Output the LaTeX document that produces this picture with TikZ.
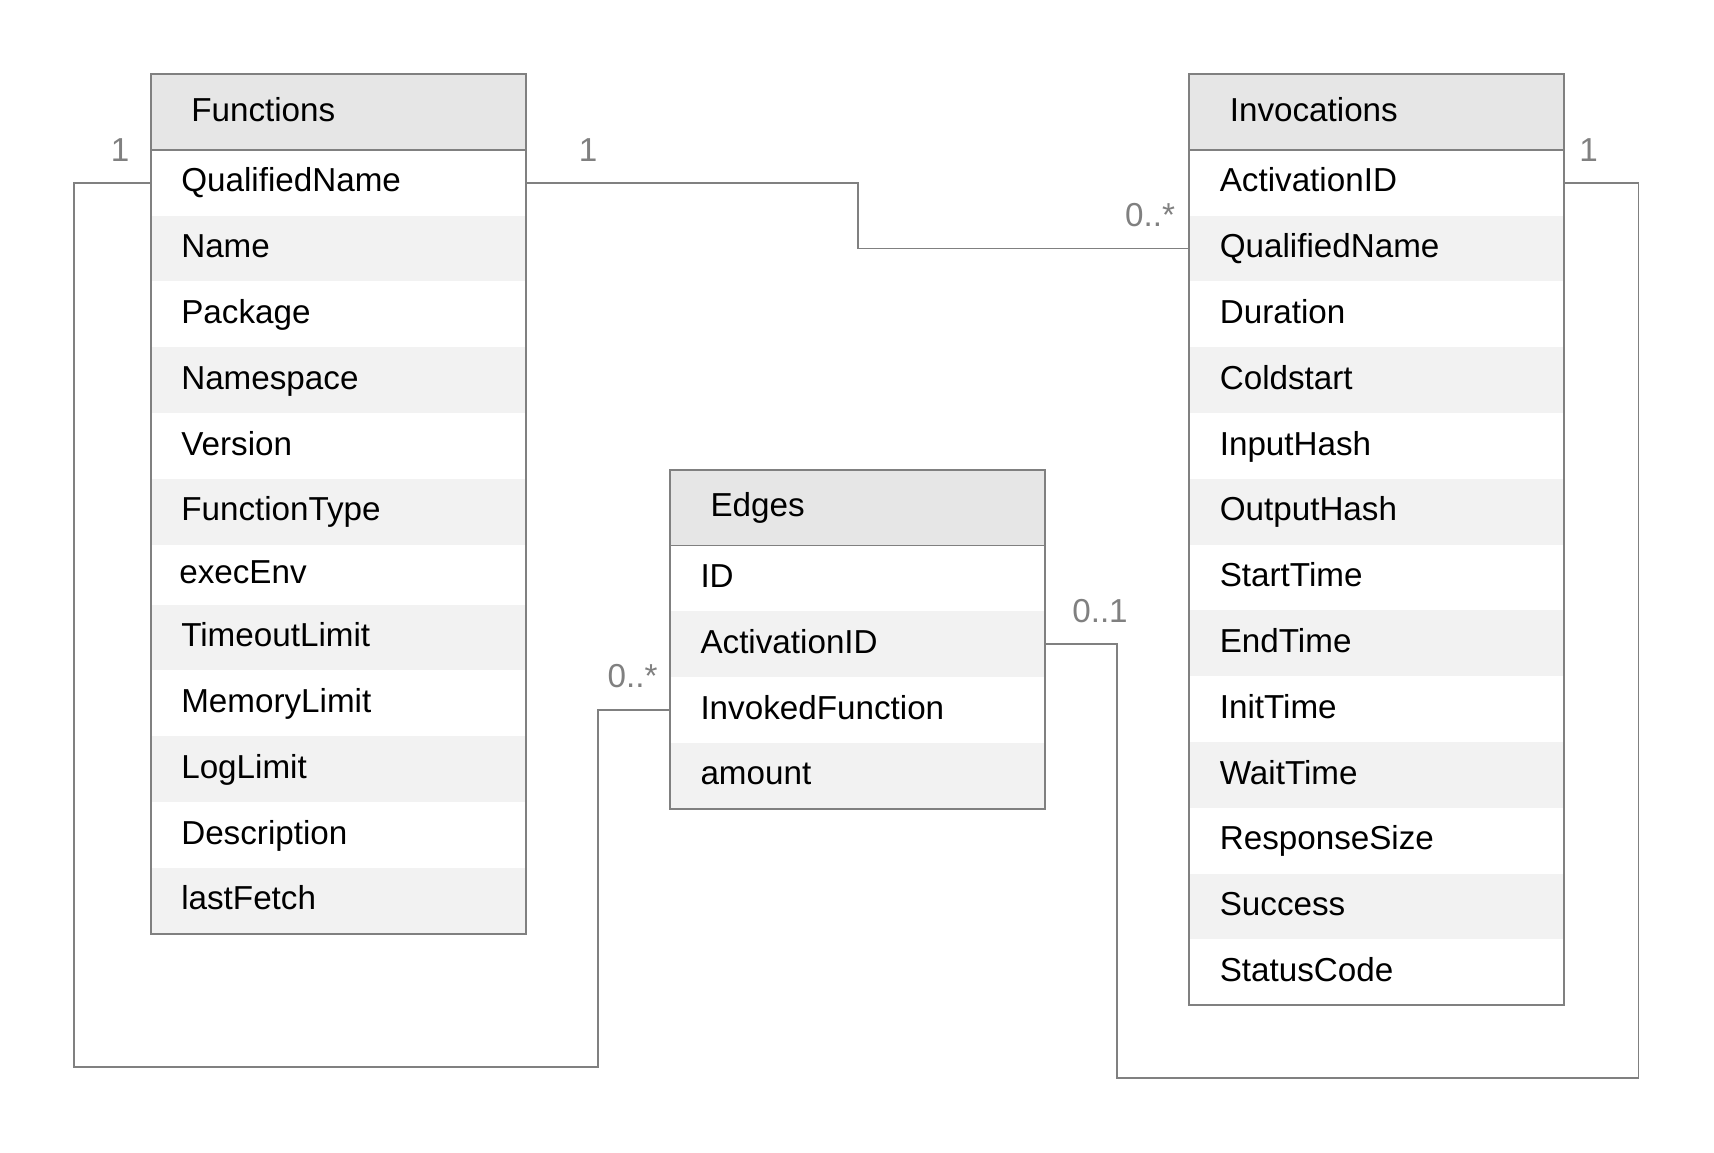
\documentclass[tikz,border=0pt]{standalone}
\usepackage{fontspec}
\setmainfont{Liberation Sans}
\usetikzlibrary{positioning,calc}
\definecolor{linegray}{RGB}{128,128,128}
\definecolor{headgray}{RGB}{230,230,230}
\definecolor{rowgray}{RGB}{242,242,242}

\begin{document}
\begin{tikzpicture}[line width=1.1pt, font=\fontsize{18.9}{22}\selectfont,
        field/.style={rectangle, anchor=north west, outer sep=0pt, inner ysep=0pt, inner xsep=0.61cm, text width=6.28cm, align=left, minimum height=1.316cm, text height=1.12em, text depth=0.084em},
        shaded/.style={field, fill=rowgray},
        head/.style={field, draw=linegray, fill=headgray, minimum height=1.51cm, inner xsep=0.81cm, text width=5.88cm},
        link/.style={draw=linegray},
        mult/.style={text=linegray, inner sep=0pt}]

        \useasboundingbox (0,0) rectangle (34.28,-23.06);

        % Functions table
        \node [head] (fnh) at (3.016,-1.486) {Functions};
        \node [field, below=0pt of fnh] (fn1) {QualifiedName};
        \node [shaded, below=0pt of fn1] (fn2) {Name};
        \node [field, below=0pt of fn2] (fn3) {Package};
        \node [shaded, below=0pt of fn3] (fn4) {Namespace};
        \node [field, below=0pt of fn4] (fn5) {Version};
        \node [shaded, below=0pt of fn5] (fn6) {FunctionType};
        \node [field, below=0pt of fn6, minimum height=1.20cm, xshift=-0.04cm] (fn7) {execEnv};
        \node [shaded, below=0pt of fn7, xshift=0.04cm] (fn8) {TimeoutLimit};
        \node [field, below=0pt of fn8] (fn9) {MemoryLimit};
        \node [shaded, below=0pt of fn9] (fn10) {LogLimit};
        \node [field, below=0pt of fn10] (fn11) {Description};
        \node [shaded, below=0pt of fn11] (fn12) {lastFetch};
        \draw [linegray] (fnh.north west) rectangle (fn12.south east);

        % Invocations table
        \node [head] (invh) at (23.786,-1.486) {Invocations};
        \node [field, below=0pt of invh] (inv1) {ActivationID};
        \node [shaded, below=0pt of inv1] (inv2) {QualifiedName};
        \node [field, below=0pt of inv2] (inv3) {Duration};
        \node [shaded, below=0pt of inv3] (inv4) {Coldstart};
        \node [field, below=0pt of inv4] (inv5) {InputHash};
        \node [shaded, below=0pt of inv5] (inv6) {OutputHash};
        \node [field, below=0pt of inv6] (inv7) {StartTime};
        \node [shaded, below=0pt of inv7] (inv8) {EndTime};
        \node [field, below=0pt of inv8] (inv9) {InitTime};
        \node [shaded, below=0pt of inv9] (inv10) {WaitTime};
        \node [field, below=0pt of inv10] (inv11) {ResponseSize};
        \node [shaded, below=0pt of inv11] (inv12) {Success};
        \node [field, below=0pt of inv12] (inv13) {StatusCode};
        \draw [linegray] (invh.north west) rectangle (inv13.south east);

        % Edges table
        \node [head] (edh) at (13.4,-9.4) {Edges};
        \node [field, below=0pt of edh] (ed1) {ID};
        \node [shaded, below=0pt of ed1] (ed2) {ActivationID};
        \node [field, below=0pt of ed2] (ed3) {InvokedFunction};
        \node [shaded, below=0pt of ed3] (ed4) {amount};
        \draw [linegray] (edh.north west) rectangle (ed4.south east);

        % relations
        \coordinate (lc1) at (1.486,-21.34);
        \coordinate (lc2) at (11.96,-21.34);
        \coordinate (rc1) at (22.34,-21.556);
        \coordinate (rc2) at (32.77,-21.556);

        \draw [link] (fn1.east) -| ($(fn1.east)!.5!(inv2.west)$) |- (inv2.west);
        \draw [link] (fn1.west) -| (lc1) -- (lc2) |- (ed3.west);
        \draw [link] (ed2.east) -| (rc1) -- (rc2) |- (inv1.east);

        \node [mult] (m1) at (2.404,-2.996) {1};
        \node [mult] (m2) at (11.76,-2.996) {1};
        \node [mult] (m3) at (23.0,-4.31) {0..*};
        \node [mult] (m4) at (12.65,-13.53) {0..*};
        \node [mult] (m5) at (22.0,-12.22) {0..1};
        \node [mult] (m6) at (31.77,-2.996) {1};
    \end{tikzpicture}
\end{document}
